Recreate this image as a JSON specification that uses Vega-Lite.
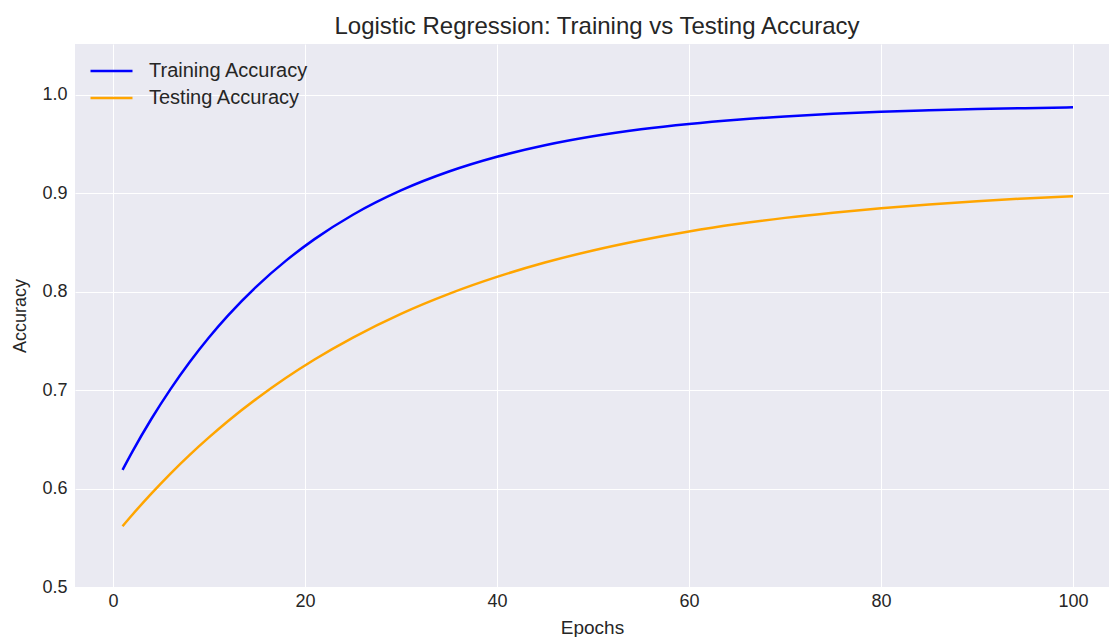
{
  "$schema": "https://vega.github.io/schema/vega-lite/v6.json",
  "width": 1034,
  "height": 543,
  "autosize": {"type": "none"},
  "padding": {"left": 75, "top": 44, "right": 0, "bottom": 50},
  "background": "white",
  "title": {
    "text": "Logistic Regression: Training vs Testing Accuracy",
    "font": "Liberation Sans",
    "fontSize": 24,
    "fontWeight": "normal",
    "color": "#262626",
    "anchor": "middle",
    "baseline": "alphabetic",
    "offset": 11,
    "dy": 25,
    "dx": 5
  },
  "data": {
    "values": [
      {"epoch": 1, "accuracy": 0.6190, "series": "Training Accuracy"},
      {"epoch": 2, "accuracy": 0.6371, "series": "Training Accuracy"},
      {"epoch": 4, "accuracy": 0.6707, "series": "Training Accuracy"},
      {"epoch": 6, "accuracy": 0.7011, "series": "Training Accuracy"},
      {"epoch": 8, "accuracy": 0.7286, "series": "Training Accuracy"},
      {"epoch": 10, "accuracy": 0.7535, "series": "Training Accuracy"},
      {"epoch": 12, "accuracy": 0.7760, "series": "Training Accuracy"},
      {"epoch": 15, "accuracy": 0.8058, "series": "Training Accuracy"},
      {"epoch": 18, "accuracy": 0.8314, "series": "Training Accuracy"},
      {"epoch": 21, "accuracy": 0.8535, "series": "Training Accuracy"},
      {"epoch": 25, "accuracy": 0.8783, "series": "Training Accuracy"},
      {"epoch": 30, "accuracy": 0.9030, "series": "Training Accuracy"},
      {"epoch": 35, "accuracy": 0.9222, "series": "Training Accuracy"},
      {"epoch": 40, "accuracy": 0.9372, "series": "Training Accuracy"},
      {"epoch": 45, "accuracy": 0.9489, "series": "Training Accuracy"},
      {"epoch": 50, "accuracy": 0.9580, "series": "Training Accuracy"},
      {"epoch": 55, "accuracy": 0.9651, "series": "Training Accuracy"},
      {"epoch": 60, "accuracy": 0.9706, "series": "Training Accuracy"},
      {"epoch": 65, "accuracy": 0.9749, "series": "Training Accuracy"},
      {"epoch": 70, "accuracy": 0.9782, "series": "Training Accuracy"},
      {"epoch": 75, "accuracy": 0.9808, "series": "Training Accuracy"},
      {"epoch": 80, "accuracy": 0.9829, "series": "Training Accuracy"},
      {"epoch": 85, "accuracy": 0.9844, "series": "Training Accuracy"},
      {"epoch": 90, "accuracy": 0.9857, "series": "Training Accuracy"},
      {"epoch": 95, "accuracy": 0.9866, "series": "Training Accuracy"},
      {"epoch": 100, "accuracy": 0.9874, "series": "Training Accuracy"},
      {"epoch": 1, "accuracy": 0.5618, "series": "Testing Accuracy"},
      {"epoch": 2, "accuracy": 0.5732, "series": "Testing Accuracy"},
      {"epoch": 4, "accuracy": 0.5949, "series": "Testing Accuracy"},
      {"epoch": 6, "accuracy": 0.6153, "series": "Testing Accuracy"},
      {"epoch": 8, "accuracy": 0.6343, "series": "Testing Accuracy"},
      {"epoch": 10, "accuracy": 0.6520, "series": "Testing Accuracy"},
      {"epoch": 12, "accuracy": 0.6687, "series": "Testing Accuracy"},
      {"epoch": 15, "accuracy": 0.6916, "series": "Testing Accuracy"},
      {"epoch": 18, "accuracy": 0.7124, "series": "Testing Accuracy"},
      {"epoch": 21, "accuracy": 0.7312, "series": "Testing Accuracy"},
      {"epoch": 25, "accuracy": 0.7535, "series": "Testing Accuracy"},
      {"epoch": 30, "accuracy": 0.7776, "series": "Testing Accuracy"},
      {"epoch": 35, "accuracy": 0.7979, "series": "Testing Accuracy"},
      {"epoch": 40, "accuracy": 0.8151, "series": "Testing Accuracy"},
      {"epoch": 45, "accuracy": 0.8297, "series": "Testing Accuracy"},
      {"epoch": 50, "accuracy": 0.8420, "series": "Testing Accuracy"},
      {"epoch": 55, "accuracy": 0.8524, "series": "Testing Accuracy"},
      {"epoch": 60, "accuracy": 0.8613, "series": "Testing Accuracy"},
      {"epoch": 65, "accuracy": 0.8688, "series": "Testing Accuracy"},
      {"epoch": 70, "accuracy": 0.8751, "series": "Testing Accuracy"},
      {"epoch": 75, "accuracy": 0.8804, "series": "Testing Accuracy"},
      {"epoch": 80, "accuracy": 0.8850, "series": "Testing Accuracy"},
      {"epoch": 85, "accuracy": 0.8888, "series": "Testing Accuracy"},
      {"epoch": 90, "accuracy": 0.8921, "series": "Testing Accuracy"},
      {"epoch": 95, "accuracy": 0.8948, "series": "Testing Accuracy"},
      {"epoch": 100, "accuracy": 0.8972, "series": "Testing Accuracy"}
    ]
  },
  "mark": {"type": "line", "interpolate": "monotone", "strokeWidth": 2.5, "clip": true},
  "encoding": {
    "x": {
      "field": "epoch",
      "type": "quantitative",
      "title": "Epochs",
      "scale": {"domain": [-3.95, 103.75], "nice": false, "zero": false},
      "axis": {"values": [0, 20, 40, 60, 80, 100], "labelPadding": 5, "titlePadding": 8, "titleFontSize": 19}
    },
    "y": {
      "field": "accuracy",
      "type": "quantitative",
      "title": "Accuracy",
      "scale": {"domain": [0.5, 1.0518], "nice": false, "zero": false},
      "axis": {"values": [0.5, 0.6, 0.7, 0.8, 0.9, 1.0], "format": ".1f", "labelPadding": 8, "titlePadding": 12}
    },
    "color": {
      "field": "series",
      "type": "nominal",
      "sort": ["Training Accuracy", "Testing Accuracy"],
      "scale": {"domain": ["Training Accuracy", "Testing Accuracy"], "range": ["#0000ff", "#ffa500"]},
      "legend": {
        "title": null,
        "orient": "none",
        "legendX": 24.5,
        "legendY": 15,
        "symbolType": "M-2,0H2",
        "symbolSize": 441,
        "symbolStrokeWidth": 2.5,
        "labelFont": "Liberation Sans",
        "labelFontSize": 20,
        "labelColor": "#262626",
        "labelOffset": 25.5,
        "rowPadding": 5
      }
    }
  },
  "config": {
    "view": {"fill": "#eaeaf2", "stroke": null},
    "axis": {
      "domain": false,
      "ticks": false,
      "grid": true,
      "gridColor": "#ffffff",
      "gridWidth": 1,
      "labelFont": "Liberation Sans",
      "labelFontSize": 18,
      "labelColor": "#262626",
      "titleFont": "Liberation Sans",
      "titleFontSize": 18,
      "titleFontWeight": "normal",
      "titleColor": "#262626"
    }
  }
}
